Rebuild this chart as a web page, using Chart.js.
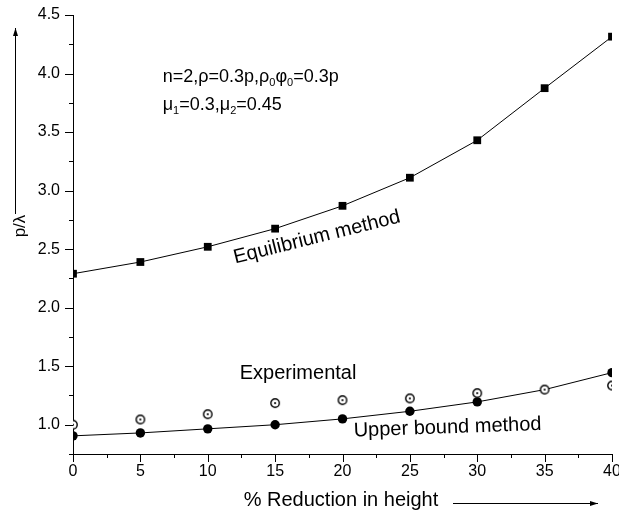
<!DOCTYPE html>
<html>
<head>
<meta charset="utf-8">
<script src="https://cdn.jsdelivr.net/npm/chart.js@4.4.1/dist/chart.umd.min.js"></script>
<style>
  body { margin: 0; background: #fff; }
  #grafico { display: block; }
</style>
</head>
<body>
<canvas id="grafico" width="619" height="518"></canvas>
<script>
// dados do grafico
let reducao = [0, 5, 10, 15, 20, 25, 30, 35, 40];
let equilibrio = [2.29, 2.39, 2.52, 2.675, 2.87, 3.11, 3.43, 3.875, 4.315];
let limiteSuperior = [0.905, 0.93, 0.965, 1.0, 1.05, 1.115, 1.195, 1.30, 1.445];
let experimental = [1.0, 1.045, 1.09, 1.185, 1.21, 1.225, 1.27, 1.30, 1.335];

// ticks dos eixos
let ticksX = [0, 5, 10, 15, 20, 25, 30, 35, 40];
let ticksY = [1.0, 1.5, 2.0, 2.5, 3.0, 3.5, 4.0, 4.5];

const fonte = '"Liberation Sans", Arial, sans-serif';

// marcador: circulo aberto com ponto no centro
function circuloComPonto() {
  const c = document.createElement('canvas');
  c.width = 12;
  c.height = 12;
  const g = c.getContext('2d');
  g.beginPath();
  g.arc(6, 6, 4.2, 0, 2 * Math.PI);
  g.fillStyle = '#fff';
  g.fill();
  g.lineWidth = 1.4;
  g.strokeStyle = '#000';
  g.stroke();
  g.beginPath();
  g.arc(6, 6, 1.1, 0, 2 * Math.PI);
  g.fillStyle = '#000';
  g.fill();
  return c;
}

function pontos(valores) {
  return reducao.map(function (x, i) { return { x: x, y: valores[i] }; });
}

// tracos maiores e menores nos eixos
const tracosEixos = {
  id: 'tracosEixos',
  afterDraw(chart) {
    const ctx = chart.ctx;
    const x = chart.scales.x;
    const y = chart.scales.y;
    ctx.save();
    ctx.strokeStyle = '#000';
    ctx.lineWidth = 1;
    ctx.beginPath();
    for (let v = x.min; v <= x.max + 0.001; v += 2.5) {
      const px = Math.round(x.getPixelForValue(v)) + 0.5;
      const len = (v % 5 === 0) ? 8 : 4;
      ctx.moveTo(px, y.bottom);
      ctx.lineTo(px, y.bottom + len);
    }
    for (let v = y.min; v <= y.max + 0.001; v += 0.25) {
      const py = Math.round(y.getPixelForValue(v)) + 0.5;
      const len = (Math.abs(v * 2 - Math.round(v * 2)) < 0.001) ? 8 : 4;
      ctx.moveTo(x.left, py);
      ctx.lineTo(x.left - len, py);
    }
    ctx.stroke();
    ctx.restore();
  }
};

function seta(ctx, x1, y1, x2, y2) {
  const ang = Math.atan2(y2 - y1, x2 - x1);
  ctx.beginPath();
  ctx.moveTo(x1, y1);
  ctx.lineTo(x2, y2);
  ctx.stroke();
  ctx.beginPath();
  ctx.moveTo(x2, y2);
  ctx.lineTo(x2 - 8 * Math.cos(ang) + 2.5 * Math.sin(ang), y2 - 8 * Math.sin(ang) - 2.5 * Math.cos(ang));
  ctx.lineTo(x2 - 8 * Math.cos(ang) - 2.5 * Math.sin(ang), y2 - 8 * Math.sin(ang) + 2.5 * Math.cos(ang));
  ctx.closePath();
  ctx.fill();
}

// textos com subscrito: lista de [texto, subscrito?]
function textoComSub(ctx, partes, x, y, tam) {
  let cx = x;
  partes.forEach(function (p) {
    if (p[1]) {
      ctx.font = Math.round(tam * 0.6) + 'px ' + fonte;
      ctx.fillText(p[0], cx, y + tam * 0.25);
    } else {
      ctx.font = tam + 'px ' + fonte;
      ctx.fillText(p[0], cx, y);
    }
    cx += ctx.measureText(p[0]).width;
  });
}

// titulos dos eixos e anotacoes
const textos = {
  id: 'textos',
  afterDraw(chart) {
    const ctx = chart.ctx;
    const x = chart.scales.x;
    const y = chart.scales.y;
    ctx.save();
    ctx.fillStyle = '#000';
    ctx.strokeStyle = '#000';
    ctx.lineWidth = 1;

    // eixo x
    ctx.font = '20px ' + fonte;
    ctx.textAlign = 'center';
    ctx.textBaseline = 'middle';
    ctx.fillText('% Reduction in height', 341, 500);
    seta(ctx, 453, 503.5, 598, 503.5);

    // eixo y
    ctx.save();
    ctx.translate(20, 226);
    ctx.rotate(-Math.PI / 2);
    ctx.font = '17px ' + fonte;
    ctx.fillText('p/\u03bb', 0, 0);
    ctx.restore();
    seta(ctx, 15.5, 214, 15.5, 28);

    // nomes das curvas
    ctx.save();
    ctx.translate(x.getPixelForValue(18.1), y.getPixelForValue(2.6));
    ctx.rotate(-14 * Math.PI / 180);
    ctx.font = '20px ' + fonte;
    ctx.fillText('Equilibrium method', 0, 0);
    ctx.restore();

    ctx.font = '20px ' + fonte;
    ctx.fillText('Experimental', x.getPixelForValue(16.7), y.getPixelForValue(1.44));

    ctx.save();
    ctx.translate(x.getPixelForValue(27.8), y.getPixelForValue(0.975));
    ctx.rotate(-2 * Math.PI / 180);
    ctx.fillText('Upper bound method', 0, 0);
    ctx.restore();

    // parametros
    ctx.textAlign = 'left';
    ctx.textBaseline = 'alphabetic';
    const x0 = x.getPixelForValue(6.66);
    textoComSub(ctx, [['n=2,\u03c1=0.3p,\u03c1', false], ['0', true], ['\u03c6', false], ['0', true], ['=0.3p', false]],
      x0, y.getPixelForValue(3.93), 18);
    textoComSub(ctx, [['\u03bc', false], ['1', true], ['=0.3,\u03bc', false], ['2', true], ['=0.45', false]],
      x0, y.getPixelForValue(3.69), 18);
    ctx.restore();
  }
};

const config = {
  type: 'line',
  data: {
    datasets: [
      {
        label: 'Experimental',
        data: pontos(experimental),
        showLine: false,
        pointStyle: circuloComPonto(),
        pointRadius: 5
      },
      {
        label: 'Equilibrium method',
        data: pontos(equilibrio),
        borderColor: '#000',
        borderWidth: 1,
        backgroundColor: '#000',
        pointStyle: 'rect',
        pointRadius: 5.5,
        pointBorderWidth: 0,
        tension: 0
      },
      {
        label: 'Upper bound method',
        data: pontos(limiteSuperior),
        borderColor: '#000',
        borderWidth: 1,
        backgroundColor: '#000',
        pointStyle: 'circle',
        pointRadius: limiteSuperior.map(function (v, i) { return reducao[i] === 35 ? 0 : 4.7; }),
        pointBorderWidth: 0,
        tension: 0
      }
    ]
  },
  options: {
    responsive: false,
    animation: false,
    layout: { padding: { top: 15, right: 7, left: 0, bottom: 0 } },
    plugins: {
      legend: { display: false },
      tooltip: { enabled: false }
    },
    scales: {
      x: {
        type: 'linear',
        min: 0,
        max: 40,
        grid: { display: false, drawTicks: false },
        border: { display: true, color: '#000', width: 1 },
        afterBuildTicks: function (s) { s.ticks = ticksX.map(function (v) { return { value: v }; }); },
        afterFit: function (s) { s.height = 64; s.paddingLeft = 0; s.paddingRight = 0; },
        ticks: {
          color: '#000',
          font: { family: fonte, size: 16 },
          padding: 8,
          maxRotation: 0,
          callback: function (v) { return String(v); }
        }
      },
      y: {
        type: 'linear',
        min: 0.75,
        max: 4.5,
        grid: { display: false, drawTicks: false },
        border: { display: true, color: '#000', width: 1 },
        afterBuildTicks: function (s) { s.ticks = ticksY.map(function (v) { return { value: v }; }); },
        afterFit: function (s) { s.width = 73; s.paddingTop = 0; s.paddingBottom = 0; },
        ticks: {
          color: '#000',
          font: { family: fonte, size: 16 },
          padding: 13,
          callback: function (v) { return v.toFixed(1); }
        }
      }
    }
  },
  plugins: [tracosEixos, textos]
};

let meuGrafico = new Chart(document.getElementById('grafico'), config);
</script>
</body>
</html>
